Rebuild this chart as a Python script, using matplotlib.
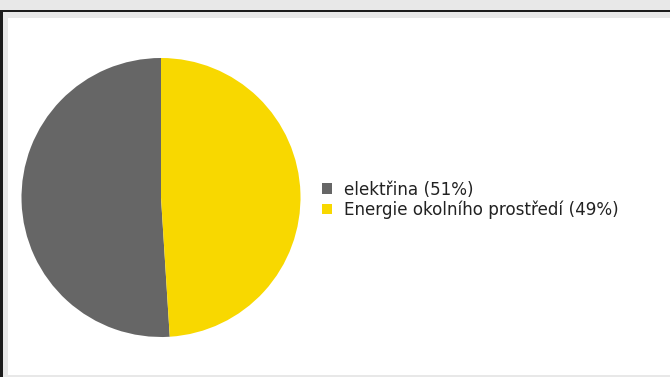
import matplotlib
matplotlib.use("Agg")
import matplotlib.pyplot as plt
from matplotlib.patches import Rectangle

# data
labels = ["elektřina (51%)", "Energie okolního prostředí (49%)"]
shares = [51, 49]
colors = ["#666666", "#f8d800"]

W, H = 670, 377
fig = plt.figure(figsize=(W / 100, H / 100), dpi=100, facecolor="#e8e8e8")

def fx(px):
    return px / W

def fy(py):
    return 1 - py / H

# page frame (screenshot look)
fig.add_artist(Rectangle((fx(8), fy(375)), fx(W - 8), (375 - 17.5) / H,
                         transform=fig.transFigure, facecolor="white",
                         edgecolor="none", zorder=0))
fig.add_artist(Rectangle((0, fy(12.2)), 1, 2.4 / H, transform=fig.transFigure,
                         facecolor="#1c1c1c", edgecolor="none", zorder=1))
fig.add_artist(Rectangle((0, 0), fx(2.6), fy(12), transform=fig.transFigure,
                         facecolor="#1c1c1c", edgecolor="none", zorder=1))

# pie
ax = fig.add_axes([fx(21.5), fy(337), fx(279), 279 / H])
wedges, _ = ax.pie(shares, colors=colors, startangle=90, counterclock=True,
                   wedgeprops=dict(linewidth=0))
ax.set_xlim(-1, 1)
ax.set_ylim(-1, 1)
ax.set_aspect("equal")
ax.axis("off")

leg = fig.legend(wedges, labels, loc="center left",
                 bbox_to_anchor=(fx(322), fy(199.8)),
                 frameon=False, fontsize=12.1, borderpad=0, borderaxespad=0,
                 handlelength=0.6, handleheight=0.6, handletextpad=0.7,
                 labelspacing=0.12)
for t in leg.get_texts():
    t.set_color("#222222")

fig.savefig("out.png", dpi=100, facecolor=fig.get_facecolor())
